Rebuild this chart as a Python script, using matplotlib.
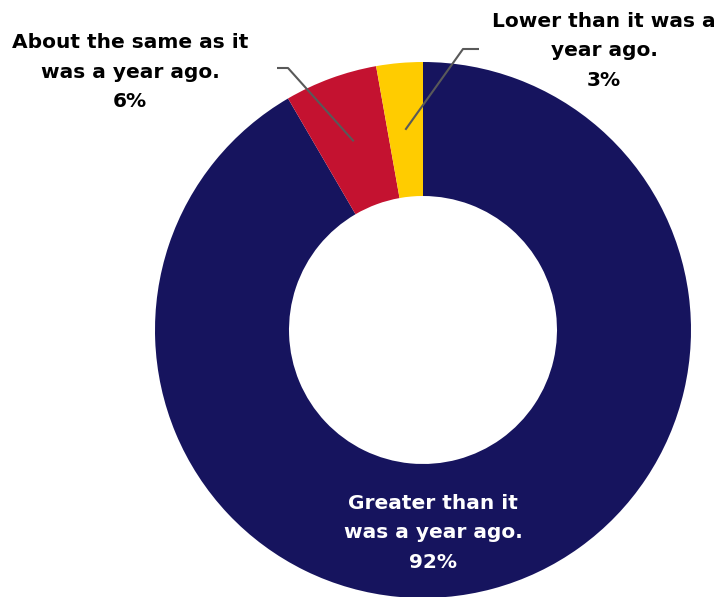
import matplotlib
matplotlib.use("Agg")
import matplotlib.pyplot as plt
import numpy as np

# survey answers, clockwise from 12 o'clock
labels = ["Greater than it\nwas a year ago.", "About the same as it\nwas a year ago.", "Lower than it was a\nyear ago."]
shares = [91.6, 5.6, 2.8]
pct_text = ["92%", "6%", "3%"]
colors = ["#16145e", "#c41230", "#ffcc00"]

W, H = 716, 597
fig = plt.figure(figsize=(W / 100, H / 100), dpi=100)
ax = fig.add_axes([0, 0, 1, 1])

cx, cy, R = 423, H - 330, 268
wedges, _ = ax.pie(shares, colors=colors, startangle=90, counterclock=False,
                   center=(cx, cy), radius=R, frame=True,
                   wedgeprops=dict(width=R * 0.5, linewidth=0))
ax.set_xlim(0, W)
ax.set_ylim(0, H)
ax.set_aspect("equal")
ax.axis("off")

font = dict(family="DejaVu Sans", weight="bold", fontsize=14.5, ha="center", va="center", linespacing=1.7)

# label inside big slice
ax.text(433, H - 533, labels[0] + "\n" + pct_text[0], color="white", **font)

# outside labels with leader lines
text_pos = [None, (130, H - 72), (604, H - 51)]
elbows = [None, [(288, H - 68), (277, H - 68)], [(463, H - 49), (479, H - 49)]]
for i in (1, 2):
    w = wedges[i]
    mid = np.deg2rad((w.theta1 + w.theta2) / 2)
    ax_pt = (cx + 0.75 * R * np.cos(mid), cy + 0.75 * R * np.sin(mid))
    pts = [ax_pt] + elbows[i]
    ax.plot([p[0] for p in pts], [p[1] for p in pts], color="#595959", lw=1.5, solid_capstyle="butt")
    ax.text(text_pos[i][0], text_pos[i][1], labels[i] + "\n" + pct_text[i], color="black", **font)

fig.savefig("out.png", dpi=100)
